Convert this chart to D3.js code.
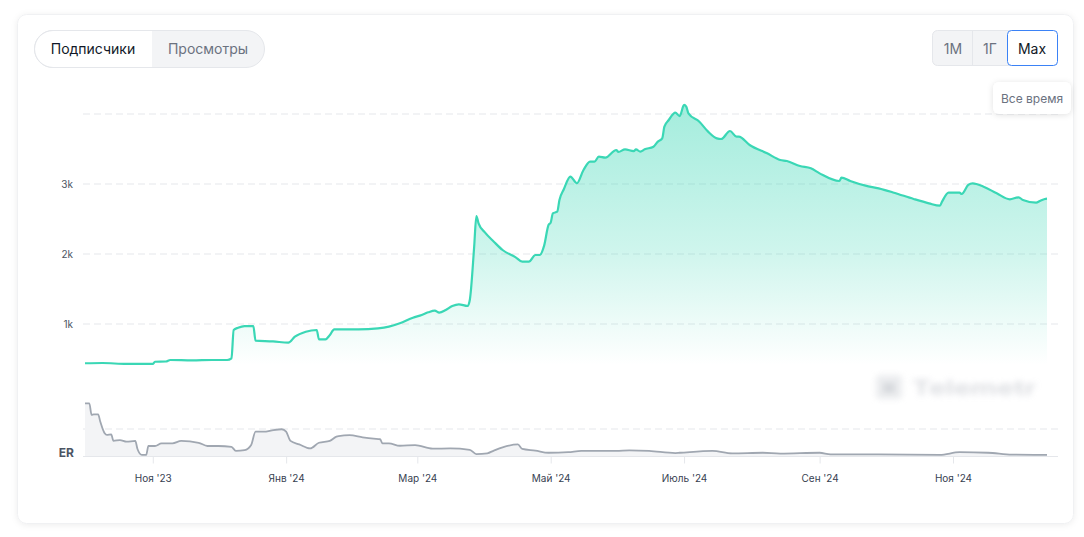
<!DOCTYPE html>
<html><head><meta charset="utf-8">
<script src="https://cdn.jsdelivr.net/npm/d3@7/dist/d3.min.js"></script>
<style>
html,body{margin:0;padding:0;background:#fff;}
svg{display:block;font-family:Inter,"Noto Sans",sans-serif;}
</style></head>
<body><svg id="c" width="1084" height="537"></svg>
<script>
// ---- data ----
const subDates = ["2023-10-01","2023-10-09","2023-10-20","2023-11-01","2023-11-02","2023-11-07","2023-11-09","2023-11-19","2023-11-28","2023-12-05","2023-12-07","2023-12-08","2023-12-10","2023-12-13","2023-12-17","2023-12-18","2023-12-26","2024-01-02","2024-01-05","2024-01-10","2024-01-15","2024-01-16","2024-01-19","2024-01-21","2024-01-23","2024-02-03","2024-02-12","2024-02-17","2024-02-22","2024-02-28","2024-03-03","2024-03-06","2024-03-09","2024-03-11","2024-03-14","2024-03-17","2024-03-20","2024-03-24","2024-03-25","2024-03-27","2024-03-28","2024-03-29","2024-04-01","2024-04-05","2024-04-09","2024-04-15","2024-04-18","2024-04-21","2024-04-24","2024-04-26","2024-04-28","2024-04-30","2024-05-01","2024-05-02","2024-05-04","2024-05-05","2024-05-07","2024-05-10","2024-05-13","2024-05-16","2024-05-19","2024-05-21","2024-05-23","2024-05-26","2024-05-31","2024-06-01","2024-06-04","2024-06-08","2024-06-09","2024-06-11","2024-06-13","2024-06-17","2024-06-19","2024-06-21","2024-06-22","2024-06-24","2024-06-27","2024-06-29","2024-07-01","2024-07-02","2024-07-03","2024-07-08","2024-07-12","2024-07-16","2024-07-18","2024-07-22","2024-07-25","2024-07-26","2024-07-31","2024-08-08","2024-08-14","2024-08-17","2024-08-23","2024-08-28","2024-09-01","2024-09-10","2024-09-11","2024-09-15","2024-09-22","2024-09-28","2024-10-05","2024-10-14","2024-10-21","2024-10-26","2024-10-27","2024-10-30","2024-11-04","2024-11-05","2024-11-08","2024-11-10","2024-11-15","2024-11-21","2024-11-27","2024-12-01","2024-12-03","2024-12-09","2024-12-11","2024-12-13","2024-12-14"];
const subValues = [439,443,429,429,461,464,486,481,486,486,510,914,947,971,971,762,752,733,819,890,914,781,781,843,924,924,938,962,1010,1090,1129,1167,1190,1162,1200,1257,1281,1257,1343,2105,2543,2438,2305,2176,2057,1952,1890,1890,1986,1986,2120,2414,2448,2581,2605,2771,2924,3105,3010,3200,3319,3319,3390,3376,3486,3457,3495,3471,3495,3462,3495,3533,3605,3652,3819,3914,4019,3971,4129,4105,4010,3890,3748,3652,3643,3757,3676,3676,3557,3438,3343,3329,3257,3224,3152,3043,3090,3043,2976,2938,2876,2786,2724,2690,2748,2876,2876,2857,2986,3010,2962,2867,2781,2810,2771,2733,2762,2786,2790];
const erDates = ["2023-10-01","2023-10-03","2023-10-04","2023-10-05","2023-10-07","2023-10-08","2023-10-10","2023-10-11","2023-10-13","2023-10-14","2023-10-17","2023-10-20","2023-10-24","2023-10-25","2023-10-27","2023-10-29","2023-10-30","2023-11-02","2023-11-05","2023-11-10","2023-11-14","2023-11-22","2023-11-26","2023-12-01","2023-12-07","2023-12-09","2023-12-13","2023-12-16","2023-12-18","2023-12-22","2023-12-25","2023-12-30","2024-01-01","2024-01-03","2024-01-07","2024-01-12","2024-01-16","2024-01-21","2024-01-24","2024-01-25","2024-01-30","2024-02-05","2024-02-10","2024-02-13","2024-02-14","2024-02-17","2024-02-22","2024-02-29","2024-03-08","2024-03-16","2024-03-25","2024-03-28","2024-04-02","2024-04-05","2024-04-09","2024-04-16","2024-04-18","2024-04-24","2024-04-30","2024-05-09","2024-05-15","2024-05-31","2024-06-06","2024-06-15","2024-06-27","2024-06-29","2024-07-14","2024-07-23","2024-08-06","2024-08-14","2024-09-01","2024-09-06","2024-09-28","2024-10-26","2024-11-04","2024-11-17","2024-11-28","2024-12-14"];
const erValues = [19.5,19.5,15.2,15.4,15.4,12.7,8.4,7.8,8.0,5.6,5.9,5.3,5.6,2.6,0.4,0.4,3.7,3.7,4.7,4.7,5.6,4.9,3.7,3.7,3.4,1.9,2.2,4.1,9.0,9.0,9.4,9.9,9.0,5.6,4.3,2.8,4.9,5.6,7.2,7.4,7.7,6.9,6.4,6.2,4.7,4.7,3.8,4.0,2.7,2.8,2.3,0.7,1.0,2.0,3.2,4.3,2.6,2.0,1.2,1.4,1.9,1.9,2.1,1.9,1.1,1.2,1.9,1.0,1.2,0.9,1.2,0.6,0.6,0.4,1.4,1.2,0.5,0.4];
const yTicks = [1000,2000,3000,4000];
const yTickLabels = ["1k","2k","3k",""];
const xTickDates = ["2023-11-01","2024-01-01","2024-03-01","2024-05-01","2024-07-01","2024-09-01","2024-11-01"];
const xTickLabels = ["Ноя '23","Янв '24","Мар '24","Май '24","Июль '24","Сен '24","Ноя '24"];
const tabLabels = ["Подписчики","Просмотры"];
const rangeLabels = ["1M","1Г","Max"];
const tooltipText = "Все время";
const erLabel = "ER";
const watermarkText = "Telemetr";

// ---- setup ----
const parse = d3.timeParse("%Y-%m-%d");
const sub = subDates.map((d,i)=>({d:parse(d),v:subValues[i]}));
const er = erDates.map((d,i)=>({d:parse(d),v:erValues[i]}));
const svg = d3.select("#c");
const defs = svg.append("defs");

const sh = defs.append("filter").attr("id","shadow").attr("x","-5%").attr("y","-5%").attr("width","110%").attr("height","110%");
sh.append("feDropShadow").attr("dx",0).attr("dy",1).attr("stdDeviation",3).attr("flood-color","#000").attr("flood-opacity",0.07);
const sh2 = defs.append("filter").attr("id","shadow2").attr("x","-30%").attr("y","-30%").attr("width","160%").attr("height","160%");
sh2.append("feDropShadow").attr("dx",0).attr("dy",1).attr("stdDeviation",3).attr("flood-color","#000").attr("flood-opacity",0.12);
const bl = defs.append("filter").attr("id","blur").attr("x","-20%").attr("y","-60%").attr("width","140%").attr("height","220%");
bl.append("feGaussianBlur").attr("stdDeviation",3.4);

const lineColor = "#3ad7b5";
const grad = defs.append("linearGradient").attr("id","fillg").attr("gradientUnits","userSpaceOnUse")
  .attr("x1",0).attr("x2",0).attr("y1",105).attr("y2",365);
grad.append("stop").attr("offset",0).attr("stop-color",lineColor).attr("stop-opacity",0.46);
grad.append("stop").attr("offset",0.55).attr("stop-color",lineColor).attr("stop-opacity",0.25);
grad.append("stop").attr("offset",1).attr("stop-color",lineColor).attr("stop-opacity",0.0);

// card
svg.append("rect").attr("x",17.5).attr("y",14.5).attr("width",1056).attr("height",509).attr("rx",9)
  .attr("fill","#fff").attr("stroke","#f0f1f3").attr("filter","url(#shadow)");

// scales
const x = d3.scaleTime().domain([parse("2023-10-01"),parse("2024-12-14")]).range([85,1047]);
const y = d3.scaleLinear().domain([0,4000]).range([394,114]);
const yEr = d3.scaleLinear().domain([0,10]).range([456,429]);
const gridX0 = 83, gridX1 = 1058;

// gridlines main
const g = svg.append("g");
g.selectAll("line.grid").data(yTicks).join("line")
  .attr("x1",gridX0).attr("x2",gridX1).attr("y1",d=>y(d)).attr("y2",d=>y(d))
  .attr("stroke","#e5e7eb").attr("stroke-width",1).attr("stroke-dasharray","7,4");
g.selectAll("text.yl").data(yTicks).join("text")
  .attr("x",73).attr("y",d=>y(d)+3.5).attr("text-anchor","end")
  .attr("font-size",10).attr("fill","#4b5563").text((d,i)=>yTickLabels[i]);

// main area + line
const bottom = 365;
svg.append("path").datum(sub).attr("fill","url(#fillg)")
  .attr("d",d3.area().x(d=>x(d.d)).y0(bottom).y1(d=>y(d.v)).curve(d3.curveMonotoneX));
svg.append("path").datum(sub).attr("fill","none").attr("stroke",lineColor).attr("stroke-width",2.2)
  .attr("stroke-linejoin","round")
  .attr("d",d3.line().x(d=>x(d.d)).y(d=>y(d.v)).curve(d3.curveMonotoneX));

// watermark (blurred)
const wm = svg.append("g").attr("filter","url(#blur)").attr("opacity",0.7);
wm.append("rect").attr("x",876).attr("y",375).attr("width",26).attr("height",24).attr("rx",4).attr("fill","#e3e5e8");
wm.append("rect").attr("x",883).attr("y",383).attr("width",12).attr("height",10).attr("rx",2).attr("fill","#c4c8ce");
wm.append("text").attr("x",912).attr("y",395).attr("font-size",20).attr("font-weight",600).attr("fill","#c9ccd2")
  .attr("textLength",124).attr("lengthAdjust","spacingAndGlyphs").text(watermarkText);

// ER pane
svg.append("line").attr("x1",gridX0).attr("x2",gridX1).attr("y1",yEr(10)).attr("y2",yEr(10))
  .attr("stroke","#e5e7eb").attr("stroke-dasharray","7,4");
svg.append("path").datum(er).attr("fill","#f3f4f6")
  .attr("d",d3.area().x(d=>x(d.d)).y0(yEr(0)).y1(d=>yEr(d.v)).curve(d3.curveMonotoneX));
svg.append("line").attr("x1",gridX0).attr("x2",gridX1).attr("y1",456.5).attr("y2",456.5).attr("stroke","#e5e7eb");
svg.append("path").datum(er).attr("fill","none").attr("stroke","#a0a7b1").attr("stroke-width",1.8)
  .attr("stroke-linejoin","round")
  .attr("d",d3.line().x(d=>x(d.d)).y(d=>yEr(d.v)).curve(d3.curveMonotoneX));
svg.append("text").attr("x",74).attr("y",457).attr("text-anchor","end").attr("font-size",12)
  .attr("font-weight",700).attr("fill","#4b5563").text(erLabel);

// x axis
const xa = svg.append("g").attr("transform","translate(0,456.5)")
  .call(d3.axisBottom(x).tickValues(xTickDates.map(parse)).tickSize(7).tickFormat((d,i)=>xTickLabels[i]));
xa.select(".domain").remove();
xa.selectAll(".tick line").attr("stroke","#e5e7eb");
xa.selectAll(".tick text").attr("font-size",10).attr("fill","#374151").attr("dy","1.55em")
  .attr("font-family","Inter,'Noto Sans',sans-serif");

// tabs (left)
const tabs = svg.append("g");
tabs.append("rect").attr("x",34.5).attr("y",30.5).attr("width",230).attr("height",37).attr("rx",18.5)
  .attr("fill","#f3f4f6").attr("stroke","#e5e7eb");
tabs.append("path").attr("d","M152,31 H53 A18,18 0 0 0 53,67 H152 Z").attr("fill","#fff");
tabs.append("path").attr("d","M53,30.5 A18.5,18.5 0 0 0 53,67.5").attr("fill","none").attr("stroke","#e5e7eb");
tabs.append("line").attr("x1",53).attr("x2",152).attr("y1",30.5).attr("y2",30.5).attr("stroke","#e5e7eb");
tabs.append("line").attr("x1",53).attr("x2",152).attr("y1",67.5).attr("y2",67.5).attr("stroke","#e5e7eb");
tabs.append("text").attr("x",93).attr("y",54).attr("text-anchor","middle").attr("font-size",14).attr("fill","#111827").text(tabLabels[0]);
tabs.append("text").attr("x",208).attr("y",54).attr("text-anchor","middle").attr("font-size",14).attr("fill","#6b7280").text(tabLabels[1]);

// range buttons (right)
const rb = svg.append("g");
rb.append("rect").attr("x",932.5).attr("y",30.5).attr("width",124).attr("height",35).attr("rx",5)
  .attr("fill","#f3f4f6").attr("stroke","#e5e7eb");
rb.append("line").attr("x1",972.5).attr("x2",972.5).attr("y1",31).attr("y2",65).attr("stroke","#e5e7eb");
rb.append("rect").attr("x",1007.5).attr("y",30.5).attr("width",50).attr("height",35).attr("rx",4)
  .attr("fill","#fff").attr("stroke","#3b82f6");
const rx = [953,990,1032];
rb.selectAll("text").data(rangeLabels).join("text").attr("x",(d,i)=>rx[i]).attr("y",53.5)
  .attr("text-anchor","middle").attr("font-size",14).attr("fill",(d,i)=>i===2?"#111827":"#6b7280").text(d=>d);

// tooltip
svg.append("rect").attr("x",993).attr("y",82).attr("width",78).attr("height",32).attr("rx",6)
  .attr("fill","#fff").attr("filter","url(#shadow2)");
svg.append("text").attr("x",1032).attr("y",102.5).attr("text-anchor","middle").attr("font-size",12)
  .attr("fill","#6b7280").text(tooltipText);
</script></body></html>
